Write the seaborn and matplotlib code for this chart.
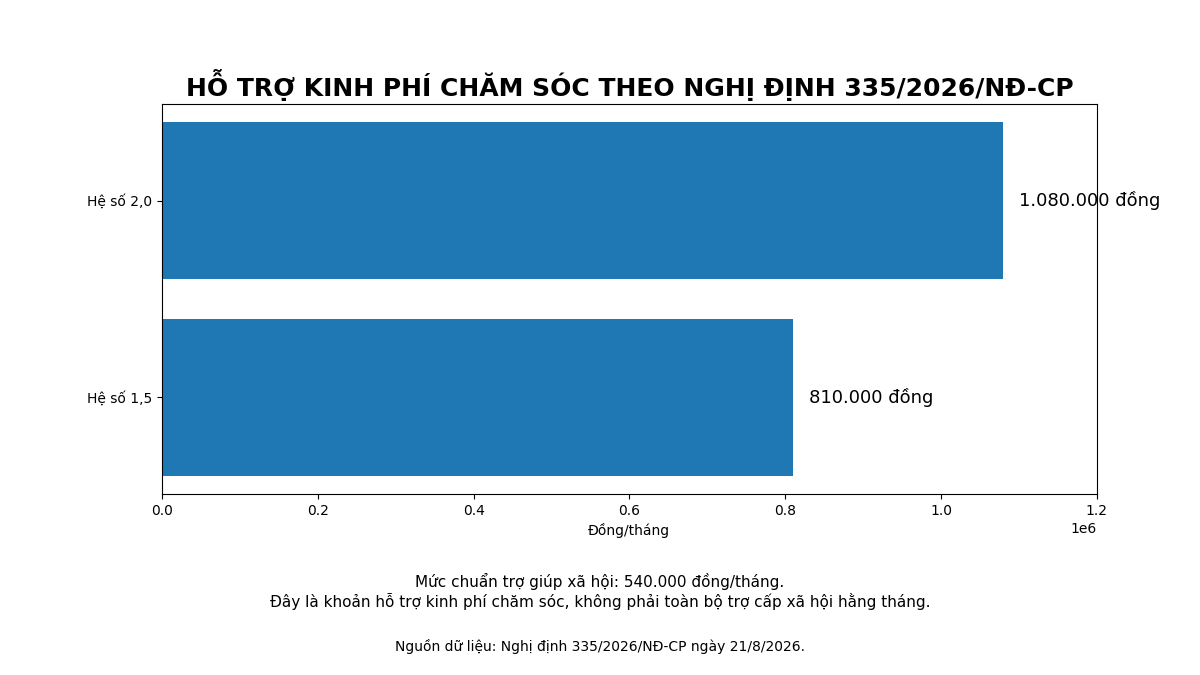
import matplotlib
matplotlib.use("Agg")
import matplotlib.pyplot as plt
import seaborn as sns
import pandas as pd

categories = ["Hệ số 2,0", "Hệ số 1,5"]
values = [1080000, 810000]
value_labels = ["1.080.000 đồng", "810.000 đồng"]

title = "HỖ TRỢ KINH PHÍ CHĂM SÓC THEO NGHỊ ĐỊNH 335/2026/NĐ-CP"
xlabel = "Đồng/tháng"
note = ("Mức chuẩn trợ giúp xã hội: 540.000 đồng/tháng.\n"
        "Đây là khoản hỗ trợ kinh phí chăm sóc, không phải toàn bộ trợ cấp xã hội hằng tháng.")
source = "Nguồn dữ liệu: Nghị định 335/2026/NĐ-CP ngày 21/8/2026."

plt.rcParams['font.family'] = ['DejaVu Sans']

df = pd.DataFrame({"cat": categories, "val": values})

fig = plt.figure(figsize=(12, 6.75), dpi=100)
ax = fig.add_axes([0.135, 1 - 494 / 675, 0.779, (494 - 104) / 675])
sns.barplot(data=df, x="val", y="cat", order=categories, color="#1f77b4",
            saturation=1, width=0.8, orient="h", ax=ax)
ax.set_ylim(1.49, -0.49)
ax.set_xlim(0, 1.2e6)
ax.set_xlabel(xlabel)
ax.set_ylabel("")
ax.set_title(title, fontsize=18, fontweight="bold")
for i, (v, lab) in enumerate(zip(values, value_labels)):
    ax.text(v + 20000, i, lab, va="center", ha="left", fontsize=13)

fig.text(0.5, 1 - 591.5 / 675, note, ha="center", va="center", fontsize=11, linespacing=1.2)
fig.text(0.5, 1 - 646 / 675, source, ha="center", va="center", fontsize=10)

fig.savefig("out.png", dpi=100)
